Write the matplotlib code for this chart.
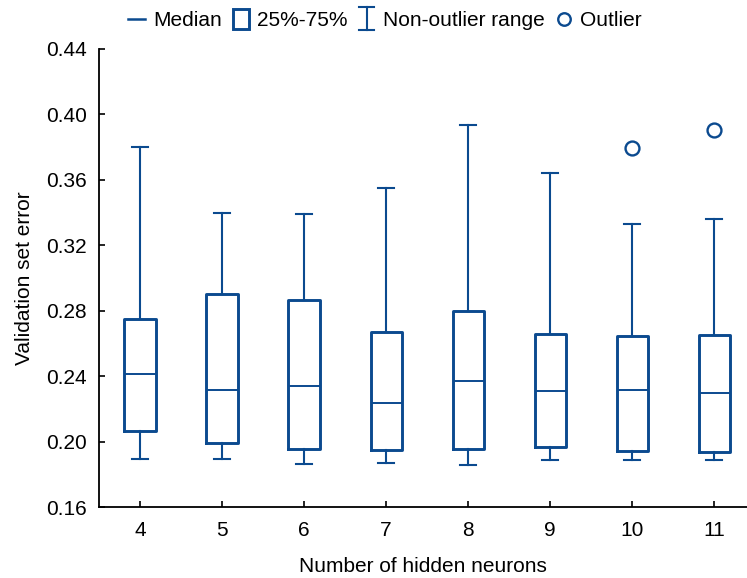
import matplotlib
matplotlib.use("Agg")
import matplotlib.pyplot as plt
from matplotlib.lines import Line2D
from matplotlib.patches import Rectangle
from matplotlib.legend_handler import HandlerBase

plt.rcParams['font.family'] = ['Liberation Sans', 'DejaVu Sans']

# Validation error per network size
neurons = [4, 5, 6, 7, 8, 9, 10, 11]
whisker_low = [0.1897, 0.1893, 0.1864, 0.1870, 0.1858, 0.1889, 0.1889, 0.1889]
q1 = [0.2064, 0.1993, 0.1958, 0.1950, 0.1958, 0.1970, 0.1944, 0.1936]
median = [0.2414, 0.2318, 0.2343, 0.2237, 0.2371, 0.2310, 0.2318, 0.2298]
q3 = [0.2750, 0.2900, 0.2866, 0.2670, 0.2800, 0.2656, 0.2646, 0.2650]
whisker_high = [0.3800, 0.3397, 0.3393, 0.3548, 0.3935, 0.3640, 0.3330, 0.3360]
outliers = [[], [], [], [], [], [], [0.3794], [0.3904]]

y_ticks = [0.16, 0.20, 0.24, 0.28, 0.32, 0.36, 0.40, 0.44]

BLUE = '#0b4a8f'
FS = 15

stats = []
for i, n in enumerate(neurons):
    stats.append(dict(label=str(n), whislo=whisker_low[i], q1=q1[i], med=median[i],
                      q3=q3[i], whishi=whisker_high[i], fliers=outliers[i]))

fig = plt.figure(figsize=(7.47, 5.78), dpi=100)
ax = fig.add_axes([99 / 747, 1 - 507.2 / 578, 1 - 99 / 747, (507.2 - 48.8) / 578])

ax.bxp(stats, positions=neurons, widths=0.38, showfliers=True,
       boxprops=dict(color=BLUE, linewidth=2.1),
       medianprops=dict(color=BLUE, linewidth=1.4),
       whiskerprops=dict(color=BLUE, linewidth=1.5),
       capprops=dict(color=BLUE, linewidth=1.5),
       capwidths=0.19,
       flierprops=dict(marker='o', markersize=10, markerfacecolor='none',
                       markeredgecolor=BLUE, markeredgewidth=1.7))

ax.set_xlim(3.5, 11.4)
ax.set_ylim(0.16, 0.44)
ax.set_yticks(y_ticks)
ax.set_yticklabels([f"{v:.2f}" for v in y_ticks])
ax.set_xticks(neurons)
ax.set_xticklabels([str(n) for n in neurons])

for side in ('top', 'right'):
    ax.spines[side].set_visible(False)
for side in ('left', 'bottom'):
    ax.spines[side].set_linewidth(1.3)
    ax.spines[side].set_color('black')

ax.tick_params(axis='y', direction='in', length=4, width=1.2, labelsize=FS, pad=8.5)
ax.tick_params(axis='x', direction='in', length=4, width=1.2, labelsize=FS, pad=10)

ax.set_xlabel("Number of hidden neurons", fontsize=FS, labelpad=12.5)
ax.set_ylabel("Validation set error", fontsize=FS, labelpad=9)


class BoxHandler(HandlerBase):
    def create_artists(self, legend, orig_handle, xdescent, ydescent, width, height, fontsize, trans):
        w = 0.92 * width
        h = 1.35 * height
        x0 = (width - w) / 2 - xdescent
        y0 = (height - h) / 2 - ydescent
        r = Rectangle((x0, y0), w, h, facecolor='none', edgecolor=BLUE, linewidth=2.1, transform=trans)
        return [r]


class RangeHandler(HandlerBase):
    def create_artists(self, legend, orig_handle, xdescent, ydescent, width, height, fontsize, trans):
        h = 1.6 * height
        cx = width / 2 - xdescent
        y0 = (height - h) / 2 - ydescent
        y1 = y0 + h
        cw = 0.45 * width
        lines = [
            Line2D([cx, cx], [y0, y1], color=BLUE, linewidth=1.5, transform=trans),
            Line2D([cx - cw, cx + cw], [y0, y0], color=BLUE, linewidth=1.5, transform=trans),
            Line2D([cx - cw, cx + cw], [y1, y1], color=BLUE, linewidth=1.5, transform=trans),
        ]
        return lines


class MedianHandler(HandlerBase):
    def create_artists(self, legend, orig_handle, xdescent, ydescent, width, height, fontsize, trans):
        cy = height / 2 - ydescent
        return [Line2D([0.0 - xdescent, width - xdescent], [cy, cy],
                       color=BLUE, linewidth=1.8, transform=trans)]


class OutlierHandler(HandlerBase):
    def create_artists(self, legend, orig_handle, xdescent, ydescent, width, height, fontsize, trans):
        cy = height / 2 - ydescent
        return [Line2D([width / 2 - xdescent], [cy], marker='o', markersize=9,
                       markerfacecolor='none', markeredgecolor=BLUE, markeredgewidth=1.7,
                       linestyle='none', transform=trans)]


h_med, h_box, h_rng, h_out = object(), object(), object(), object()
fig.legend([h_med, h_box, h_rng, h_out],
           ["Median", "25%-75%", "Non-outlier range", "Outlier"],
           handler_map={h_med: MedianHandler(), h_box: BoxHandler(),
                        h_rng: RangeHandler(), h_out: OutlierHandler()},
           loc='center', bbox_to_anchor=(385 / 747, 1 - 20.5 / 578), ncol=4, frameon=False,
           fontsize=FS, handlelength=0.82, handletextpad=0.38, columnspacing=0.5,
           borderaxespad=0, borderpad=0)

fig.savefig("out.png", dpi=100)
